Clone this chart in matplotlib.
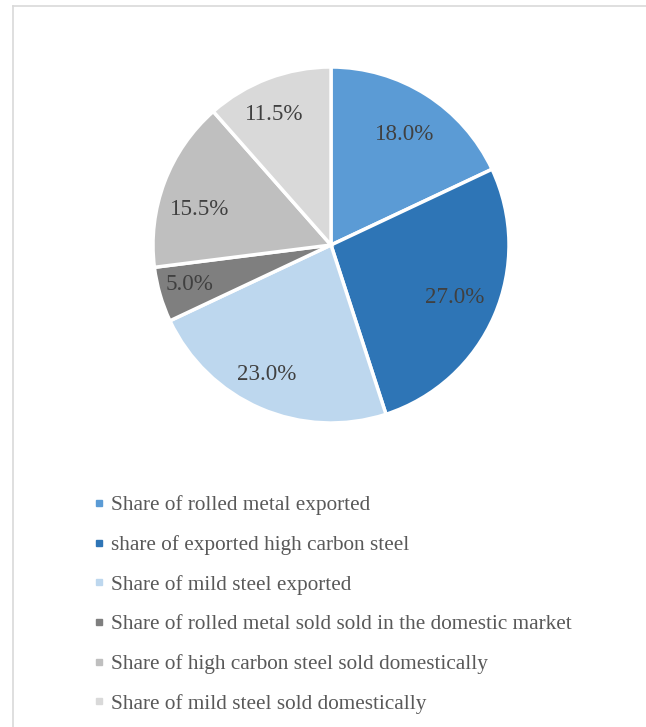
import matplotlib
matplotlib.use("Agg")
import matplotlib.pyplot as plt
from matplotlib.lines import Line2D
import numpy as np

labels = [
    "Share of rolled metal exported",
    "share of exported high carbon steel",
    "Share of mild steel exported",
    "Share of rolled metal sold sold in the domestic market",
    "Share of high carbon steel sold domestically",
    "Share of mild steel sold domestically",
]
values = [18.0, 27.0, 23.0, 5.0, 15.5, 11.5]
colors = ["#5B9BD5", "#2E75B6", "#BDD7EE", "#7F7F7F", "#BFBFBF", "#D9D9D9"]

# label placement style (radial distance, angular nudge in degrees)
label_dist = [0.76, 0.75, 0.80, 0.82, 0.77, 0.81]
label_shift = [-0.8, 1.4, -3.4, -1.5, 4.7, 2.5]

W, H = 646, 727
DPI = 100
fig = plt.figure(figsize=(W / DPI, H / DPI), dpi=DPI)
fig.patch.set_facecolor("white")

serif = ["Liberation Serif", "DejaVu Serif"]

# pie placement
cx, cy, r = 331, 245, 178
ax = fig.add_axes([(cx - r) / W, 1 - (cy + r) / H, 2 * r / W, 2 * r / H])
wedges, texts, autotexts = ax.pie(
    values, colors=colors, startangle=90, counterclock=False,
    autopct="%.1f%%", pctdistance=0.78, radius=1,
    wedgeprops=dict(edgecolor="white", linewidth=2.5, clip_on=False),
    textprops=dict(color="#404040", fontsize=16.6, family=serif),
)
for w, t, d, s in zip(wedges, autotexts, label_dist, label_shift):
    mid = np.deg2rad((w.theta1 + w.theta2) / 2 + s)
    t.set_position((d * np.cos(mid), d * np.sin(mid) - 0.013))

ax.set_xlim(-1, 1)
ax.set_ylim(-1, 1)
ax.set_aspect("equal")
ax.axis("off")

# frame (top and left edges of the chart area)
fig.add_artist(Line2D([13 / W, 1], [1 - 6 / H, 1 - 6 / H], color="#D9D9D9", lw=1.2,
                      transform=fig.transFigure))
fig.add_artist(Line2D([13 / W, 13 / W], [1 - 6 / H, 0], color="#D9D9D9", lw=1.2,
                      transform=fig.transFigure))

handles = [Line2D([0], [0], marker="s", linestyle="None", markersize=5,
                  markerfacecolor=c, markeredgecolor=c) for c in colors]
leg = fig.legend(handles, labels, loc="upper left",
                 bbox_to_anchor=(84 / W, 1 - 487 / H),
                 frameon=False, handlelength=0.6, handletextpad=0.25,
                 labelspacing=0.93, borderaxespad=0,
                 prop=dict(family=serif, size=15.3))
for t in leg.get_texts():
    t.set_color("#595959")

fig.savefig("out.png", dpi=DPI, facecolor="white")
